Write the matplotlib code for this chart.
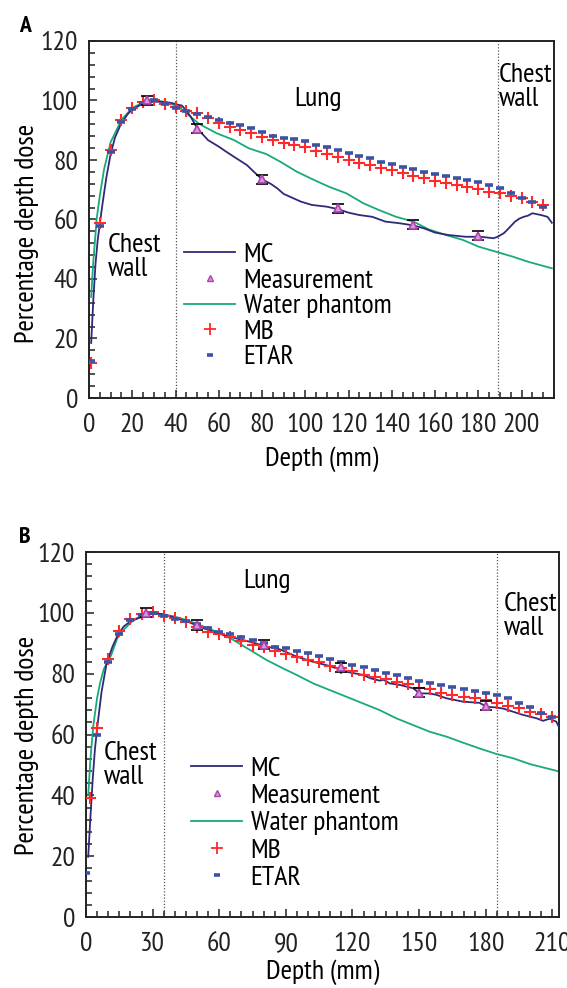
import matplotlib
matplotlib.use("Agg")
import matplotlib.pyplot as plt
from matplotlib.lines import Line2D
from matplotlib.ticker import MultipleLocator

plt.rcParams['font.family'] = ['PT Sans Narrow', 'Fira Sans Condensed', 'Roboto Condensed', 'DejaVu Sans']

# ---- panel A data ----
mb_x_a = [1] + list(range(5, 215, 5))
mb_y_a = [11.7, 58.9, 83.4, 93.4, 97.4, 99.4, 100.2, 98.8, 97.7, 96.5,
          95.7, 94.0, 92.5, 91.2, 90.1, 89.0, 87.8, 86.6, 85.8, 85.0,
          84.3, 83.1, 81.9, 81.0, 80.0, 78.9, 78.3, 77.4, 76.6, 75.7,
          74.7, 73.8, 73.1, 72.4, 71.6, 71.0, 70.1, 69.4, 68.8, 68.0,
          67.1, 66.0, 64.9]
etar_x_a = [1] + list(range(5, 215, 5))
etar_y_a = [12.5, 57.8, 82.8, 92.9, 97.2, 99.2, 100.0, 98.8, 97.6, 96.6,
            95.6, 94.6, 93.4, 92.6, 91.6, 90.6, 89.4, 88.0, 87.3, 86.9,
            86.4, 85.0, 84.3, 83.4, 82.2, 81.3, 80.6, 79.4, 78.5, 77.8,
            76.9, 76.1, 75.3, 74.6, 73.8, 73.3, 72.5, 71.6, 70.7, 68.8,
            67.1, 65.8, 64.3]
mc_x_a = [1, 2, 3, 4, 5, 6, 8, 10, 12, 15, 18, 20, 25, 30, 35, 38, 41, 43,
          45, 47, 50, 53, 55, 60, 63, 67, 73, 77, 80, 84, 87, 90, 94, 98,
          103, 110, 115, 120, 125, 131, 137, 144, 150, 155, 160, 166, 174,
          181, 187, 189, 192, 194, 197, 199, 201, 203, 205, 207, 209, 212, 214]
mc_y_a = [18.5, 33, 45, 53, 58.5, 64, 74, 82, 87.5, 92.5, 95.5, 97, 99,
          99.6, 99.5, 99.2, 98.6, 98.3, 96.5, 94.6, 90.6, 88.3, 86.7, 84.5,
          83.0, 81.1, 78.3, 75.5, 73.5, 72.0, 70.5, 68.6, 67.3, 66.0, 64.9,
          64.3, 63.5, 62.3, 61.5, 60.9, 59.3, 58.7, 58.0, 57.0, 55.6, 54.8,
          54.2, 54.2, 53.7, 54.2, 55.5, 57.0, 59.3, 60.3, 60.9, 61.3, 62.1,
          61.8, 61.5, 60.9, 58.9]
water_x_a = [1, 2, 3, 3.5, 5, 7, 10, 15, 20, 25, 30, 35, 40, 43, 46, 51, 59,
             67, 74, 82, 89, 96, 104, 111, 119, 127, 134, 142, 150, 157, 165,
             173, 180, 188, 196, 203, 214]
water_y_a = [34, 46, 55, 60, 68, 77, 86, 93.5, 97.5, 99.3, 100, 99.6, 98.3,
             97, 95.1, 92.1, 89.0, 86.7, 83.9, 82.0, 79.2, 76.1, 73.3, 71.0,
             68.8, 65.4, 63.2, 60.9, 59.3, 56.7, 54.8, 53.1, 50.9, 49.2, 47.5,
             45.8, 43.6]
meas_x_a = [27, 50, 80, 115, 150, 180]
meas_y_a = [100.0, 90.5, 73.6, 63.7, 58.2, 54.5]

# ---- panel B data ----
mb_x_b = [2] + list(range(5, 215, 5))
mb_y_b = [39.2, 62.0, 84.7, 94.1, 97.9, 99.6, 100.4, 98.9, 98.2, 97.1,
          95.2, 93.8, 93.0, 92.1, 90.7, 89.4, 88.7, 87.5, 86.6, 85.6,
          84.5, 83.9, 82.5, 81.7, 81.0, 79.6, 79.0, 78.1, 77.4, 76.6,
          75.2, 75.0, 73.7, 73.0, 72.4, 71.9, 71.3, 70.4, 69.4, 68.6,
          67.5, 66.7, 65.6]
etar_x_b = list(range(0, 215, 5))
etar_y_b = [14.4, 59.8, 83.9, 93.2, 97.6, 99.3, 99.8, 98.9, 97.9, 97.3,
            96.3, 94.9, 93.8, 93.0, 91.9, 91.1, 90.0, 88.9, 88.3, 87.5,
            86.7, 85.8, 84.7, 83.9, 82.8, 82.1, 81.2, 80.3, 79.6, 78.5,
            77.7, 77.0, 76.3, 75.5, 74.8, 74.4, 73.7, 73.0, 71.9, 70.4,
            68.9, 67.2, 65.8]
mc_x_b = [1, 2, 3, 4, 5, 7, 9.3, 12, 14.5, 17, 19.8, 25.8, 30.3, 34.8, 40.8,
          46.8, 51.3, 57.3, 63.3, 69.3, 75.3, 81.3, 87.3, 94.8, 102.3, 109.8,
          117.3, 124.8, 128, 132.3, 134, 136.8, 141.3, 147.3, 150.3, 154.8,
          158, 162.3, 169.8, 177.3, 180.3, 184.8, 188, 192.3, 196, 199.8, 203,
          205.8, 208.8, 211.8, 214]
mc_y_b = [19.8, 33, 45, 55, 62, 74, 83.5, 89, 93.0, 95.5, 97.1, 98.9, 99.8,
          99.6, 98.2, 96.8, 95.4, 93.8, 92.4, 91.3, 90.2, 88.9, 88.0, 85.6,
          83.9, 82.5, 80.6, 79.6, 78.5, 77.7, 78.0, 76.8, 76.3, 75.2, 73.5,
          73.5, 73.0, 71.9, 70.8, 70.4, 69.1, 68.9, 68.5, 67.5, 66.6, 65.9,
          65.3, 64.5, 65.2, 64.2, 60.9]
water_x_b = [1, 2, 3.3, 5, 6.3, 8, 11.3, 14, 16.8, 21.3, 26.4, 32.3, 39.3,
             45.3, 51.3, 58.8, 66.3, 73.8, 81.3, 88.8, 94.8, 102.3, 109.8,
             117.3, 124.8, 132.3, 139.8, 147.3, 154.8, 162.3, 169.8, 177.3,
             184.8, 192.3, 199.8, 207.3, 213.3]
water_y_b = [40, 52, 63, 72, 76.8, 81.5, 86, 91.5, 94.3, 97.6, 99.6, 99.7,
             98.9, 97.6, 96.0, 93.8, 91.1, 87.8, 84.5, 81.7, 79.6, 76.8, 74.6,
             72.4, 70.2, 68.0, 65.3, 63.1, 60.9, 59.3, 57.3, 55.4, 53.6, 52.2,
             50.3, 48.9, 47.8]
meas_x_b = [27, 50, 80, 115, 150, 180]
meas_y_b = [100.0, 96.0, 89.5, 82.1, 73.7, 69.4]
meas_err = 1.5

c_mc = '#2e2a7a'
c_water = '#19a97b'
c_mb = '#ff2a2a'
c_etar = '#3b53a4'
c_meas = '#b040b0'
c_meas_fill = '#d69ad6'
fs = 20

fig = plt.figure(figsize=(5.67, 9.88), dpi=100)
ax_a = fig.add_axes([89 / 567, 590 / 988, 465 / 567, 357 / 988])
ax_b = fig.add_axes([86 / 567, 71 / 988, 473 / 567, 365 / 988])


def draw_panel(ax, mc_x, mc_y, water_x, water_y, mb_x, mb_y, etar_x, etar_y,
               meas_x, meas_y, xmax, xmajor, walls, xlabelpad):
    for w in walls:
        ax.axvline(w, color='#555555', lw=0.9, ls=(0, (1, 1.5)), zorder=1)
    ax.plot(water_x, water_y, color=c_water, lw=1.3, zorder=2)
    ax.plot(mc_x, mc_y, color=c_mc, lw=1.3, zorder=3)
    ax.plot(mb_x, mb_y, ls='none', marker='+', ms=9, mew=1.5, color=c_mb, zorder=4)
    ax.plot(etar_x, etar_y, ls='none', marker='_', ms=6, mew=2.6, color=c_etar, zorder=5)
    ax.errorbar(meas_x, meas_y, yerr=meas_err, fmt='none', ecolor='black',
                elinewidth=1.2, capsize=4, capthick=1.2, zorder=6)
    ax.plot(meas_x, meas_y, ls='none', marker='^', ms=6, mfc=c_meas_fill,
            mec=c_meas, mew=1.2, zorder=7)

    ax.set_xlim(0, xmax)
    ax.set_ylim(0, 120)
    ax.xaxis.set_major_locator(MultipleLocator(xmajor))
    ax.xaxis.set_minor_locator(MultipleLocator(5))
    ax.yaxis.set_major_locator(MultipleLocator(20))
    ax.yaxis.set_minor_locator(MultipleLocator(4))
    ax.tick_params(which='both', direction='in', labelsize=fs, width=1.1,
                   colors='#222222')
    ax.tick_params(axis='y', pad=8)
    ax.tick_params(axis='x', pad=11)
    ax.tick_params(which='major', length=6)
    ax.tick_params(which='minor', length=4)
    for s in ax.spines.values():
        s.set_linewidth(1.4)
        s.set_color('#222222')
    ax.set_xlabel('Depth (mm)', fontsize=fs, labelpad=xlabelpad)
    ax.set_ylabel('Percentage depth dose', fontsize=fs)

    handles = [
        Line2D([], [], color=c_mc, lw=1.3),
        Line2D([], [], ls='none', marker='^', ms=4, mfc=c_meas_fill, mec=c_meas, mew=1),
        Line2D([], [], color=c_water, lw=1.3),
        Line2D([], [], ls='none', marker='+', ms=8, mew=1.3, color=c_mb),
        Line2D([], [], ls='none', marker='_', ms=5, mew=2.6, color=c_etar),
    ]
    labels = ['MC', 'Measurement', 'Water phantom', 'MB', 'ETAR']
    return handles, labels


h, l = draw_panel(ax_a, mc_x_a, mc_y_a, water_x_a, water_y_a, mb_x_a, mb_y_a,
                  etar_x_a, etar_y_a, meas_x_a, meas_y_a, 215, 20, [40, 189], 7)
ax_a.yaxis.set_label_coords(-0.108, 0.46)
ax_a.legend(h, l, loc='upper left', bbox_to_anchor=(0.204, 0.435), frameon=False,
            fontsize=fs, borderpad=0, handlelength=1.85, handletextpad=0.3,
            labelspacing=0.04, borderaxespad=0)
ax_a.text(8.8, 55.5, 'Chest\nwall', fontsize=fs, ha='left', va='top', linespacing=1.0)
ax_a.text(95, 104.5, 'Lung', fontsize=fs, ha='left', va='top')
ax_a.text(189.5, 112.5, 'Chest\nwall', fontsize=fs, ha='left', va='top', linespacing=1.0)

h, l = draw_panel(ax_b, mc_x_b, mc_y_b, water_x_b, water_y_b, mb_x_b, mb_y_b,
                  etar_x_b, etar_y_b, meas_x_b, meas_y_b, 213, 30, [35, 185], 2)
ax_b.yaxis.set_label_coords(-0.1, 0.47)
ax_b.legend(h, l, loc='upper left', bbox_to_anchor=(0.222, 0.44), frameon=False,
            fontsize=fs, borderpad=0, handlelength=1.85, handletextpad=0.3,
            labelspacing=0.1, borderaxespad=0)
ax_b.text(8.1, 58, 'Chest\nwall', fontsize=fs, ha='left', va='top', linespacing=1.0)
ax_b.text(70.7, 114.5, 'Lung', fontsize=fs, ha='left', va='top')
ax_b.text(188, 107, 'Chest\nwall', fontsize=fs, ha='left', va='top', linespacing=1.0)

fig.text(25 / 567, 1 - 32 / 988, 'A', fontsize=17, fontweight='bold', ha='center', va='baseline')
fig.text(25 / 567, 1 - 543 / 988, 'B', fontsize=17, fontweight='bold', ha='center', va='baseline')

fig.savefig('out.png', dpi=100)
